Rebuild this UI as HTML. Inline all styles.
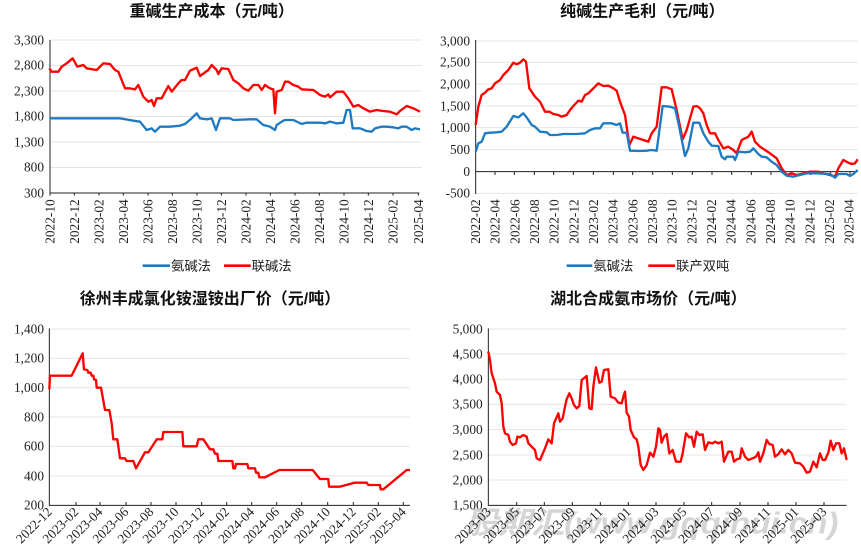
<!DOCTYPE html>
<html><head><meta charset="utf-8"><style>
body{margin:0;background:#fff;width:861px;height:556px;position:relative;overflow:hidden}
svg{position:absolute}
.t{font-family:"Liberation Sans","Noto Sans CJK SC",sans-serif;font-weight:bold;font-size:48px;fill:#111;text-anchor:middle}
.n{font-family:"Liberation Serif","Noto Serif CJK SC",serif;font-size:40px;fill:#222}
.l{font-family:"Liberation Sans","Noto Sans CJK SC",sans-serif;font-size:40px;fill:#222}
.g{stroke:#e6e6dc;stroke-width:3}
.ax{stroke:#222;stroke-width:3;fill:none}
.r{fill:none;stroke:#f00;stroke-width:7;stroke-linejoin:round}
.b{fill:none;stroke:#1f7ac4;stroke-width:7;stroke-linejoin:round}
</style></head><body>

<!-- Chart 1 -->
<svg style="left:0;top:0" width="430" height="280" viewBox="0 0 1290 840">
<text class="t" x="635" y="50">重碱生产成本（元/吨）</text>
<g class="g"><line x1="150" x2="1265" y1="120" y2="120"/><line x1="150" x2="1265" y1="196.5" y2="196.5"/><line x1="150" x2="1265" y1="273" y2="273"/><line x1="150" x2="1265" y1="349.5" y2="349.5"/><line x1="150" x2="1265" y1="426" y2="426"/><line x1="150" x2="1265" y1="502.5" y2="502.5"/></g>
<g class="n" text-anchor="end"><text x="132" y="133">3,300</text><text x="132" y="209">2,800</text><text x="132" y="286">2,300</text><text x="132" y="362">1,800</text><text x="132" y="439">1,300</text><text x="132" y="515">800</text><text x="132" y="592">300</text></g>
<path class="ax" d="M150 120V579H1258M150 579v8M223 579v8M297 579v8M370 579v8M444 579v8M517 579v8M591 579v8M664 579v8M738 579v8M811 579v8M885 579v8M958 579v8M1032 579v8M1105 579v8M1179 579v8M1255 579v8"/>
<g class="n" text-anchor="end">
<text transform="translate(164,598) rotate(-90)">2022-10</text><text transform="translate(237,598) rotate(-90)">2022-12</text><text transform="translate(311,598) rotate(-90)">2023-02</text><text transform="translate(384,598) rotate(-90)">2023-04</text><text transform="translate(458,598) rotate(-90)">2023-06</text><text transform="translate(531,598) rotate(-90)">2023-08</text><text transform="translate(605,598) rotate(-90)">2023-10</text><text transform="translate(678,598) rotate(-90)">2023-12</text><text transform="translate(752,598) rotate(-90)">2024-02</text><text transform="translate(825,598) rotate(-90)">2024-04</text><text transform="translate(899,598) rotate(-90)">2024-06</text><text transform="translate(972,598) rotate(-90)">2024-08</text><text transform="translate(1046,598) rotate(-90)">2024-10</text><text transform="translate(1119,598) rotate(-90)">2024-12</text><text transform="translate(1193,598) rotate(-90)">2025-02</text><text transform="translate(1269,598) rotate(-90)">2025-04</text></g>
<polyline class="r" points="148,205 155,215 175,215 185,200 200,190 218,175 232,200 250,195 260,205 290,210 310,190 330,192 345,210 355,215 375,265 390,265 405,268 415,255 430,290 445,305 455,300 462,318 470,295 485,295 505,258 515,275 535,250 545,240 555,240 570,212 590,203 600,228 625,210 635,195 650,210 655,222 665,205 685,207 700,240 715,250 730,265 745,272 760,255 775,255 785,270 795,255 810,265 820,268 825,340 830,275 845,270 855,245 865,245 880,255 895,260 905,268 940,270 960,285 975,290 985,283 990,292 1010,275 1030,275 1045,295 1060,320 1075,315 1090,325 1110,335 1130,330 1150,333 1170,335 1190,343 1200,333 1220,318 1240,325 1250,330 1260,335"/>
<polyline class="b" points="148,355 190,355 210,355 240,355 360,355 400,362 420,365 440,390 455,385 465,395 480,380 510,380 540,377 555,372 575,355 590,340 600,355 620,358 635,355 648,390 660,355 690,355 700,360 750,358 770,358 790,375 810,380 825,390 830,375 850,362 855,360 880,360 905,372 920,368 960,368 975,370 990,365 1010,370 1030,368 1040,330 1050,330 1058,385 1080,385 1100,393 1115,395 1125,385 1145,380 1160,380 1180,382 1195,385 1205,380 1220,380 1235,390 1245,385 1260,388"/>
<line x1="428" x2="510" y1="797" y2="797" stroke="#1f7ac4" stroke-width="8"/><text class="l" x="513" y="812">氨碱法</text>
<line x1="672" x2="752" y1="797" y2="797" stroke="#f00" stroke-width="8"/><text class="l" x="755" y="812">联碱法</text>
</svg>

<!-- Chart 2 -->
<svg style="left:430px;top:0" width="431" height="280" viewBox="0 0 1293 840">
<text class="t" x="637" y="50">纯碱生产毛利（元/吨）</text>
<g class="g"><line x1="137" x2="1283" y1="123" y2="123"/><line x1="137" x2="1283" y1="187" y2="187"/><line x1="137" x2="1283" y1="252" y2="252"/><line x1="137" x2="1283" y1="318" y2="318"/><line x1="137" x2="1283" y1="383" y2="383"/><line x1="137" x2="1283" y1="449" y2="449"/><line x1="137" x2="1283" y1="580" y2="580"/></g>
<g class="n" text-anchor="end"><text x="120" y="136">3,000</text><text x="120" y="200">2,500</text><text x="120" y="265">2,000</text><text x="120" y="331">1,500</text><text x="120" y="396">1,000</text><text x="120" y="462">500</text><text x="120" y="528">0</text><text x="120" y="593">-500</text></g>
<path class="ax" d="M137 120V582M137 515H1283M195 515v10M253 515v10M313 515v10M371 515v10M430 515v10M490 515v10M550 515v10M608 515v10M668 515v10M727 515v10M787 515v10M846 515v10M905 515v10M964 515v10M1023 515v10M1083 515v10M1142 515v10M1202 515v10M1260 515v10"/>
<g class="n" text-anchor="end">
<text transform="translate(150,598) rotate(-90)">2022-02</text><text transform="translate(209,598) rotate(-90)">2022-04</text><text transform="translate(268,598) rotate(-90)">2022-06</text><text transform="translate(327,598) rotate(-90)">2022-08</text><text transform="translate(386,598) rotate(-90)">2022-10</text><text transform="translate(445,598) rotate(-90)">2022-12</text><text transform="translate(504,598) rotate(-90)">2023-02</text><text transform="translate(563,598) rotate(-90)">2023-04</text><text transform="translate(622,598) rotate(-90)">2023-06</text><text transform="translate(681,598) rotate(-90)">2023-08</text><text transform="translate(740,598) rotate(-90)">2023-10</text><text transform="translate(799,598) rotate(-90)">2023-12</text><text transform="translate(858,598) rotate(-90)">2024-02</text><text transform="translate(917,598) rotate(-90)">2024-04</text><text transform="translate(976,598) rotate(-90)">2024-06</text><text transform="translate(1035,598) rotate(-90)">2024-08</text><text transform="translate(1094,598) rotate(-90)">2024-10</text><text transform="translate(1153,598) rotate(-90)">2024-12</text><text transform="translate(1212,598) rotate(-90)">2025-02</text><text transform="translate(1271,598) rotate(-90)">2025-04</text></g>
<polyline class="r" points="137,375 145,320 155,285 165,278 175,268 185,265 195,250 210,240 220,225 235,210 250,188 260,193 270,188 280,178 288,185 298,265 315,290 330,305 345,335 358,335 370,342 385,345 395,350 410,345 420,330 430,318 445,302 455,305 465,285 475,280 495,260 505,250 520,258 535,257 550,265 560,272 570,305 585,345 598,435 610,410 625,415 640,420 655,425 665,400 680,380 695,262 710,262 725,268 740,330 758,418 770,390 790,320 800,318 810,325 820,340 830,375 840,400 855,400 865,420 880,445 895,440 910,450 920,460 935,420 945,415 955,410 965,395 975,425 990,440 1005,450 1020,460 1040,475 1055,505 1070,525 1085,520 1100,525 1120,520 1140,515 1165,515 1180,520 1200,525 1215,530 1225,505 1240,480 1255,488 1265,492 1275,490 1283,478"/>
<polyline class="b" points="137,455 145,430 155,425 165,400 180,398 200,397 215,395 230,380 250,348 265,352 280,340 292,355 305,375 315,380 330,395 350,397 360,405 380,405 400,402 440,402 465,400 480,390 495,385 510,385 520,370 545,370 560,375 570,370 578,398 590,398 600,452 630,453 650,452 665,450 680,452 698,318 720,320 735,325 745,368 765,468 775,445 790,368 808,368 820,400 835,425 845,437 865,438 875,470 885,478 890,470 910,470 915,480 925,455 945,457 960,455 970,445 985,462 995,470 1010,472 1025,485 1040,495 1055,515 1070,527 1090,530 1110,525 1130,520 1160,520 1200,522 1215,533 1225,522 1250,522 1260,528 1270,522 1283,510"/>
<line x1="410" x2="487" y1="797" y2="797" stroke="#1f7ac4" stroke-width="8"/><text class="l" x="490" y="812">氨碱法</text>
<line x1="655" x2="735" y1="797" y2="797" stroke="#f00" stroke-width="8"/><text class="l" x="738" y="812">联产双吨</text>
</svg>

<!-- Chart 3 -->
<svg style="left:0;top:280px" width="430" height="276" viewBox="0 0 1290 828">
<text class="t" x="630" y="72">徐州丰成氯化铵湿铵出厂价（元/吨）</text>
<g class="g"><line x1="148" x2="1230" y1="147" y2="147"/><line x1="148" x2="1230" y1="235" y2="235"/><line x1="148" x2="1230" y1="323" y2="323"/><line x1="148" x2="1230" y1="411" y2="411"/><line x1="148" x2="1230" y1="499" y2="499"/><line x1="148" x2="1230" y1="588" y2="588"/></g>
<g class="n" text-anchor="end"><text x="132" y="160">1,400</text><text x="132" y="248">1,200</text><text x="132" y="336">1,000</text><text x="132" y="424">800</text><text x="132" y="512">600</text><text x="132" y="601">400</text><text x="132" y="689">200</text></g>
<path class="ax" d="M148 145V676H1230M228 676v-10M300 676v-10M378 676v-10M453 676v-10M528 676v-10M605 676v-10M680 676v-10M755 676v-10M830 676v-10M905 676v-10M983 676v-10M1060 676v-10M1135 676v-10M1210 676v-10"/>
<g class="n" text-anchor="end">
<text transform="translate(158,698) rotate(-45)">2022-12</text><text transform="translate(238,698) rotate(-45)">2023-02</text><text transform="translate(310,698) rotate(-45)">2023-04</text><text transform="translate(388,698) rotate(-45)">2023-06</text><text transform="translate(463,698) rotate(-45)">2023-08</text><text transform="translate(538,698) rotate(-45)">2023-10</text><text transform="translate(615,698) rotate(-45)">2023-12</text><text transform="translate(690,698) rotate(-45)">2024-02</text><text transform="translate(765,698) rotate(-45)">2024-04</text><text transform="translate(840,698) rotate(-45)">2024-06</text><text transform="translate(915,698) rotate(-45)">2024-08</text><text transform="translate(993,698) rotate(-45)">2024-10</text><text transform="translate(1070,698) rotate(-45)">2024-12</text><text transform="translate(1145,698) rotate(-45)">2025-02</text><text transform="translate(1220,698) rotate(-45)">2025-04</text></g>
<polyline class="r" points="148,328 150,287 215,287 248,220 252,268 262,270 265,278 272,278 275,287 280,287 282,298 288,300 290,323 303,323 315,390 328,390 335,430 340,478 352,478 360,535 375,535 380,543 400,543 408,565 435,517 445,517 470,478 487,478 490,456 547,456 550,499 590,499 595,478 610,478 630,508 640,508 645,521 652,521 655,543 697,543 700,565 705,565 708,552 742,552 745,565 765,565 768,578 775,578 778,592 795,592 838,570 938,570 960,597 985,597 987,620 1020,620 1065,608 1100,608 1105,615 1140,615 1142,628 1150,628 1220,570 1230,570"/>
</svg>

<!-- Chart 4 -->
<svg style="left:430px;top:280px" width="431" height="276" viewBox="0 0 1293 828">
<text class="t" x="655" y="72">湖北合成氨市场价（元/吨）</text>
<g class="g"><line x1="175" x2="1250" y1="147" y2="147"/><line x1="175" x2="1250" y1="222" y2="222"/><line x1="175" x2="1250" y1="298" y2="298"/><line x1="175" x2="1250" y1="373" y2="373"/><line x1="175" x2="1250" y1="449" y2="449"/><line x1="175" x2="1250" y1="525" y2="525"/><line x1="175" x2="1250" y1="600" y2="600"/></g>
<g class="n" text-anchor="end"><text x="158" y="160">5,000</text><text x="158" y="235">4,500</text><text x="158" y="311">4,000</text><text x="158" y="386">3,500</text><text x="158" y="462">3,000</text><text x="158" y="538">2,500</text><text x="158" y="613">2,000</text><text x="158" y="689">1,500</text></g>
<path class="ax" d="M175 145V676H1250M260 676v-10M343 676v-10M427 676v-10M511 676v-10M595 676v-10M678 676v-10M762 676v-10M845 676v-10M930 676v-10M1014 676v-10M1098 676v-10M1182 676v-10"/>
<text x="665" y="760" text-anchor="middle" textLength="1120" lengthAdjust="spacingAndGlyphs" style="font-family:'Liberation Sans','Noto Sans CJK SC',sans-serif;font-size:92px;font-weight:bold;font-style:italic;fill:#c4c4c4;opacity:.7">股期汇(www.gqqihui.cn)</text>
<g class="n" text-anchor="end">
<text transform="translate(185,698) rotate(-45)">2023-03</text><text transform="translate(270,698) rotate(-45)">2023-05</text><text transform="translate(353,698) rotate(-45)">2023-07</text><text transform="translate(437,698) rotate(-45)">2023-09</text><text transform="translate(521,698) rotate(-45)">2023-11</text><text transform="translate(605,698) rotate(-45)">2024-01</text><text transform="translate(688,698) rotate(-45)">2024-03</text><text transform="translate(772,698) rotate(-45)">2024-05</text><text transform="translate(855,698) rotate(-45)">2024-07</text><text transform="translate(940,698) rotate(-45)">2024-09</text><text transform="translate(1024,698) rotate(-45)">2024-11</text><text transform="translate(1108,698) rotate(-45)">2025-01</text><text transform="translate(1192,698) rotate(-45)">2025-03</text></g>
<polyline class="r" points="175,215 180,240 185,280 195,310 200,335 210,345 215,370 220,440 225,460 235,465 240,485 248,495 258,490 262,470 270,472 280,465 290,470 295,490 305,500 315,510 320,535 330,540 345,505 355,478 365,490 372,430 385,400 390,425 398,415 405,380 410,358 418,340 425,355 432,375 440,385 448,378 455,300 470,288 478,385 485,387 490,320 498,262 508,308 515,305 522,270 535,268 542,350 555,355 565,368 575,370 580,350 585,335 590,398 597,410 602,450 612,472 620,478 625,500 632,555 640,570 650,555 660,518 670,530 678,500 685,445 690,450 695,488 702,470 710,462 718,520 728,510 738,545 752,545 758,520 768,460 778,472 785,470 792,500 800,455 808,465 818,463 825,510 835,487 848,490 855,485 865,490 875,485 882,545 895,515 905,515 912,545 920,538 930,535 935,505 945,530 955,540 968,535 978,530 985,517 990,545 1000,520 1010,480 1018,492 1028,495 1035,530 1045,522 1055,508 1065,523 1075,510 1085,520 1095,548 1110,550 1120,560 1130,578 1140,575 1150,545 1160,562 1170,520 1178,540 1185,540 1195,518 1202,482 1210,510 1218,490 1228,490 1235,520 1242,505 1250,540"/>
</svg>
</body></html>
